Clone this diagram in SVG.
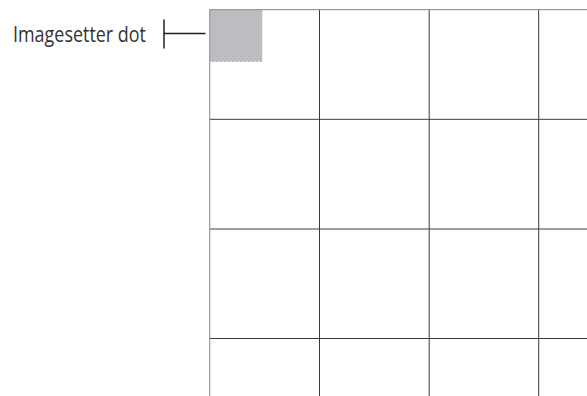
<svg xmlns="http://www.w3.org/2000/svg" width="587" height="396" viewBox="0 0 587 396">
<style>
.grid{stroke:#3a3a3a;stroke-width:1;fill:none}
.edge{stroke:#9a9a9a;stroke-width:1.2;fill:none}
.lbl{font-family:"Open Sans","Liberation Sans",sans-serif;font-size:21px;fill:#333333}
.ptr{stroke:#231f20;stroke-width:1.5;fill:none}
</style>
<rect width="587" height="396" fill="#ffffff"/>
<g id="dot">
<rect x="209.5" y="9.5" width="53" height="52.5" fill="#bcbdc0" stroke="#ffffff" stroke-width="1" stroke-dasharray="2 2"/>
</g>
<g id="grid">
<line class="grid" x1="319.5" y1="9.5" x2="319.5" y2="396"/>
<line class="grid" x1="429.2" y1="9.5" x2="429.2" y2="396"/>
<line class="grid" x1="538.7" y1="9.5" x2="538.7" y2="396"/>
<line class="grid" x1="209.5" y1="119.3" x2="587" y2="119.3"/>
<line class="grid" x1="209.5" y1="229" x2="587" y2="229"/>
<line class="grid" x1="209.5" y1="338.5" x2="587" y2="338.5"/>
<line class="edge" x1="209.7" y1="9.5" x2="209.7" y2="396"/>
<line class="edge" x1="209.5" y1="9.7" x2="587" y2="9.7"/>
</g>
<g id="label">
<text class="lbl" x="13" y="41.5" textLength="133" lengthAdjust="spacingAndGlyphs">Imagesetter dot</text>
</g>
<g id="connectors">
<line class="ptr" x1="164" y1="19.5" x2="164" y2="48.5"/>
<line class="ptr" x1="164" y1="33.5" x2="205.5" y2="33.5"/>
</g>
</svg>
